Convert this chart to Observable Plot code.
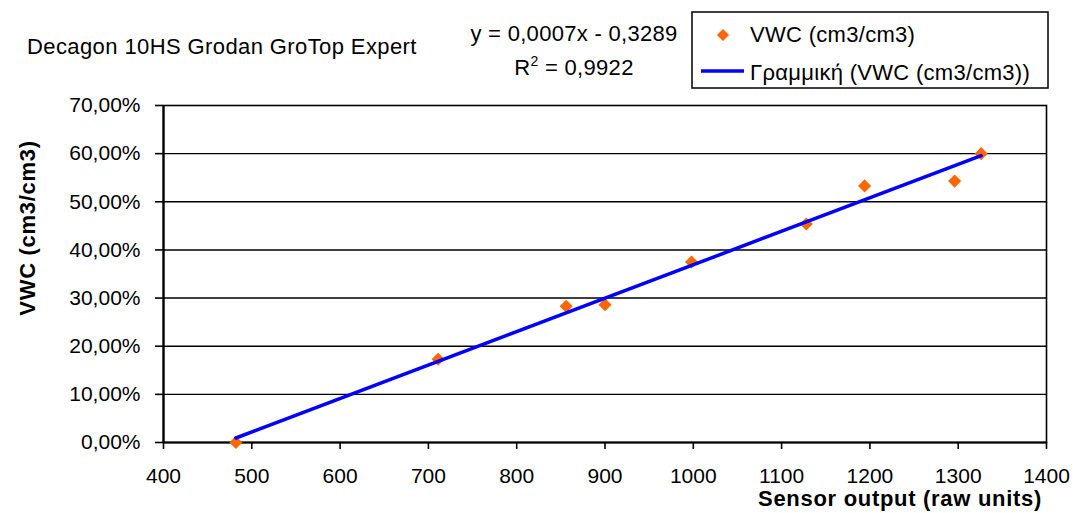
<!DOCTYPE html>
<html>
<head>
<meta charset="utf-8">
<script src="https://cdn.jsdelivr.net/npm/d3@7"></script>
<script src="https://cdn.jsdelivr.net/npm/@observablehq/plot@0.6"></script>
<style>
  html, body { margin: 0; padding: 0; background: #fff; }
  #chart svg { display: block; }
</style>
</head>
<body>
<div id="chart"></div>
<script>
// ---- data ----
const sensorOutput = [482, 711, 856, 900, 998, 1128, 1194, 1296, 1326];
const vwc = [0.000, 0.173, 0.283, 0.286, 0.375, 0.454, 0.533, 0.543, 0.600];
const xTicks = [400, 500, 600, 700, 800, 900, 1000, 1100, 1200, 1300, 1400];
const yTicks = [0, 0.1, 0.2, 0.3, 0.4, 0.5, 0.6, 0.7];
const titleText = "Decagon 10HS Grodan GroTop Expert";
const equationText = "y = 0,0007x - 0,3289";
const r2Value = "0,9922";
const seriesName = "VWC (cm3/cm3)";
const trendName = "Γραμμική (VWC (cm3/cm3))";
const xTitle = "Sensor output (raw units)";
const yTitle = "VWC (cm3/cm3)";

const data = sensorOutput.map((x, i) => ({x, y: vwc[i]}));
const pctFmt = d => (d * 100).toFixed(2).replace(".", ",") + "%";

const ORANGE = "#FF6600";
const BLUE = "#0000FF";
const FONT = "'Liberation Sans', Arial, sans-serif";

const chart = Plot.plot({
  width: 1073,
  height: 513,
  marginLeft: 163,
  marginRight: 27,
  marginTop: 105,
  marginBottom: 71,
  style: {fontFamily: FONT, fontSize: "21px", background: "#fff", color: "#000"},
  x: {domain: [400, 1400]},
  y: {domain: [0, 0.7]},
  marks: [
    Plot.gridY(yTicks.slice(1, -1), {stroke: "#000", strokeOpacity: 1, strokeWidth: 1.4}),
    Plot.frame({stroke: "#000", strokeWidth: 1.6}),
    Plot.ruleY([0], {stroke: "#000", strokeWidth: 2.2}),
    Plot.ruleX([400], {stroke: "#000", strokeWidth: 2.2}),
    Plot.axisX(xTicks, {tickSize: 7, tickPadding: 19, label: null, tickFormat: d => String(d), strokeWidth: 1.6, fontSize: 21}),
    Plot.axisY(yTicks, {tickSize: 8, tickPadding: 15, label: null, tickFormat: pctFmt, strokeWidth: 1.6, fontSize: 21}),
    Plot.dot(data, {x: "x", y: "y", symbol: "diamond2", r: 5.9, fill: ORANGE, stroke: null}),
    Plot.linearRegressionY(data, {x: "x", y: "y", ci: 0, stroke: BLUE, strokeWidth: 3.5})
  ]
});

document.getElementById("chart").appendChild(chart);

// ---- annotations, titles and legend ----
const svg = d3.select(chart);
const g = svg.append("g").attr("font-family", FONT).attr("fill", "#000").attr("text-anchor", "start");

g.append("text").attr("x", 27).attr("y", 54).attr("text-anchor", "start").attr("font-size", 22).attr("letter-spacing", 0.4).text(titleText);

g.append("text").attr("x", 574).attr("y", 41).attr("text-anchor", "middle").attr("font-size", 22).attr("letter-spacing", 0.3).text(equationText);
const r2 = g.append("text").attr("x", 574).attr("y", 75).attr("text-anchor", "middle").attr("font-size", 22).attr("letter-spacing", 0.3);
r2.append("tspan").text("R");
r2.append("tspan").attr("dy", -9).attr("font-size", 14).text("2");
r2.append("tspan").attr("dy", 9).text(" = " + r2Value);

// legend
const lg = svg.append("g").attr("font-family", FONT).attr("text-anchor", "start");
lg.append("rect").attr("x", 692).attr("y", 12).attr("width", 356).attr("height", 76)
  .attr("fill", "#fff").attr("stroke", "#000").attr("stroke-width", 1.5);
lg.append("path").attr("d", d3.symbol(d3.symbolDiamond2, 95)()).attr("transform", "translate(723,35)").attr("fill", ORANGE);
lg.append("line").attr("x1", 701).attr("x2", 744).attr("y1", 71).attr("y2", 71).attr("stroke", BLUE).attr("stroke-width", 3.5);
lg.append("text").attr("x", 750).attr("y", 42).attr("text-anchor", "start").attr("font-size", 22).attr("letter-spacing", 0.3).text(seriesName);
lg.append("text").attr("x", 750).attr("y", 80).attr("text-anchor", "start").attr("font-size", 22).attr("letter-spacing", 0.3).text(trendName);

// axis titles
g.append("text").attr("x", 1042).attr("y", 506).attr("text-anchor", "end").attr("font-size", 22)
  .attr("font-weight", "bold").attr("letter-spacing", 0.7).text(xTitle);
g.append("text").attr("transform", "translate(35,228) rotate(-90)").attr("text-anchor", "middle").attr("font-size", 22)
  .attr("font-weight", "bold").attr("letter-spacing", 0.7).text(yTitle);
</script>
</body>
</html>
